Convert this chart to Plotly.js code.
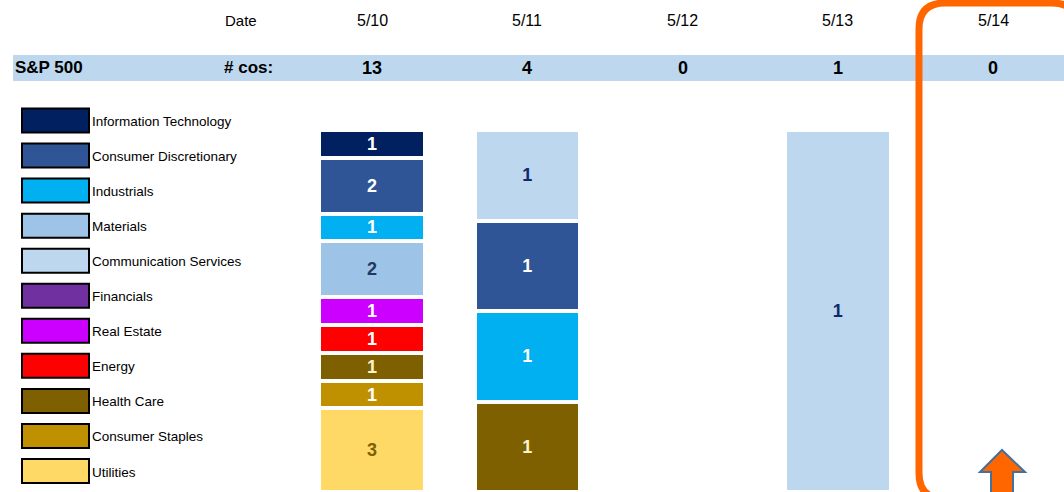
<!DOCTYPE html>
<html>
<head>
<meta charset="utf-8">
<script src="https://cdn.plot.ly/plotly-3.0.1.min.js"></script>
<style>
  html, body { margin: 0; padding: 0; background: #ffffff; }
  #chart { width: 1064px; height: 492px; }
</style>
</head>
<body>
<div id="chart"></div>
<script>
// ---- Data ----
const dates = ['5/10', '5/11', '5/12', '5/13', '5/14'];

const sectors = ['Information Technology', 'Consumer Discretionary', 'Industrials', 'Materials',
  'Communication Services', 'Financials', 'Real Estate', 'Energy', 'Health Care',
  'Consumer Staples', 'Utilities'];

const infoTech      = [1, 0, 0, 0, 0];
const consDisc      = [2, 1, 0, 0, 0];
const industrials   = [1, 1, 0, 0, 0];
const materials     = [2, 0, 0, 0, 0];
const commServices  = [0, 1, 0, 1, 0];
const financials    = [0, 0, 0, 0, 0];
const realEstate    = [1, 0, 0, 0, 0];
const energy        = [1, 0, 0, 0, 0];
const healthCare    = [1, 1, 0, 0, 0];
const consStaples   = [1, 0, 0, 0, 0];
const utilities     = [3, 0, 0, 0, 0];

const sectorValues = {
  'Information Technology': infoTech,
  'Consumer Discretionary': consDisc,
  'Industrials': industrials,
  'Materials': materials,
  'Communication Services': commServices,
  'Financials': financials,
  'Real Estate': realEstate,
  'Energy': energy,
  'Health Care': healthCare,
  'Consumer Staples': consStaples,
  'Utilities': utilities
};

// ---- Styles ----
const sectorColors = {
  'Information Technology': '#002060',
  'Consumer Discretionary': '#2F5597',
  'Industrials': '#00B0F0',
  'Materials': '#9DC3E6',
  'Communication Services': '#BDD7EE',
  'Financials': '#7030A0',
  'Real Estate': '#CC00FF',
  'Energy': '#FF0000',
  'Health Care': '#7F6000',
  'Consumer Staples': '#BF9000',
  'Utilities': '#FFD966'
};
const sectorTextColors = {
  'Information Technology': '#FFFFFF',
  'Consumer Discretionary': '#FFFFFF',
  'Industrials': '#FFFFFF',
  'Materials': '#1F3864',
  'Communication Services': '#0E2A6B',
  'Financials': '#FFFFFF',
  'Real Estate': '#FFFFFF',
  'Energy': '#FFFFFF',
  'Health Care': '#FFF2CC',
  'Consumer Staples': '#FFFFFF',
  'Utilities': '#7F6000'
};
// stacking order, bottom to top
const stackOrder = ['Utilities', 'Consumer Staples', 'Health Care', 'Energy', 'Real Estate',
  'Financials', 'Materials', 'Industrials', 'Consumer Discretionary', 'Information Technology',
  'Communication Services'];

const FONT = '"Liberation Sans", Arial, sans-serif';
const W = 1064, H = 492;
const px = x => x / W;
const py = y => 1 - y / H;

// ---- Traces ----
const traces = stackOrder.map(name => {
  const vals = sectorValues[name];
  return {
    type: 'bar',
    name: name,
    x: dates,
    y: vals.map(v => v > 0 ? v : null),
    text: vals.map(v => v > 0 ? String(v) : ''),
    textposition: 'inside',
    insidetextanchor: 'middle',
    textangle: 0,
    textfont: { family: FONT, size: 18, color: sectorTextColors[name], weight: 'bold' },
    marker: { color: sectorColors[name], line: { color: '#FFFFFF', width: 4 } },
    hoverinfo: 'skip'
  };
});

// ---- Shapes ----
const shapes = [];
// blue header band
shapes.push({ type: 'rect', xref: 'paper', yref: 'paper', x0: px(13), x1: px(1064), y0: py(81), y1: py(55),
  fillcolor: '#BDD7EE', line: { width: 0 }, layer: 'below' });

// legend boxes
const legTop = 120.5, legStep = 35.05, boxH = 24;
sectors.forEach((name, i) => {
  const cy = legTop + i * legStep;
  shapes.push({ type: 'rect', xref: 'paper', yref: 'paper',
    x0: px(22), x1: px(89), y0: py(cy + boxH / 2), y1: py(cy - boxH / 2),
    fillcolor: sectorColors[name], line: { color: '#000000', width: 2 }, layer: 'above' });
});

// orange rounded highlight rectangle
(function () {
  const l = 919, t = 3, r = 1078, b = 499, rad = 26;
  const P = (x, y) => px(x).toFixed(5) + ',' + py(y).toFixed(5);
  const path = 'M' + P(l, t + rad) +
    ' Q' + P(l, t) + ' ' + P(l + rad, t) +
    ' L' + P(r - rad, t) +
    ' Q' + P(r, t) + ' ' + P(r, t + rad) +
    ' L' + P(r, b - rad) +
    ' Q' + P(r, b) + ' ' + P(r - rad, b) +
    ' L' + P(l + rad, b) +
    ' Q' + P(l, b) + ' ' + P(l, b - rad) + ' Z';
  shapes.push({ type: 'path', xref: 'paper', yref: 'paper', path: path,
    line: { color: '#FF6600', width: 7 }, fillcolor: 'rgba(0,0,0,0)', layer: 'above' });

  // arrow
  const pts = [[1002, 450], [1025, 472], [1013, 472], [1013, 500], [991, 500], [991, 472], [980, 472]];
  const ap = 'M' + pts.map(p => P(p[0], p[1])).join(' L') + ' Z';
  shapes.push({ type: 'path', xref: 'paper', yref: 'paper', path: ap,
    fillcolor: '#FF6600', line: { color: '#41719C', width: 2 }, layer: 'above' });
})();

// ---- Annotations ----
const annotations = [];
const totals = dates.map((d, j) => sectors.reduce((s, n) => s + sectorValues[n][j], 0));

annotations.push({ xref: 'paper', yref: 'paper', x: px(223), y: py(20), xanchor: 'left', yanchor: 'middle',
  text: 'Date', showarrow: false, font: { family: FONT, size: 15, color: '#000000' } });
annotations.push({ xref: 'paper', yref: 'paper', x: px(13), y: py(68), xanchor: 'left', yanchor: 'middle',
  text: '<b>S&P 500</b>', showarrow: false, font: { family: FONT, size: 17, color: '#000000' } });
annotations.push({ xref: 'paper', yref: 'paper', x: px(222), y: py(68), xanchor: 'left', yanchor: 'middle',
  text: '<b># cos:</b>', showarrow: false, font: { family: FONT, size: 17, color: '#000000' } });

dates.forEach((d, j) => {
  annotations.push({ xref: 'x', yref: 'paper', x: d, y: py(20), xanchor: 'center', yanchor: 'middle',
    text: d, showarrow: false, font: { family: FONT, size: 16, color: '#000000' } });
  annotations.push({ xref: 'x', yref: 'paper', x: d, y: py(68), xanchor: 'center', yanchor: 'middle',
    text: '<b>' + totals[j] + '</b>', showarrow: false, font: { family: FONT, size: 18, color: '#000000' } });
});

sectors.forEach((name, i) => {
  const cy = legTop + i * legStep;
  annotations.push({ xref: 'paper', yref: 'paper', x: px(90), y: py(cy + 1), xanchor: 'left', yanchor: 'middle',
    text: name, showarrow: false, font: { family: FONT, size: 13.5, color: '#000000' } });
});

const layout = {
  width: W, height: H,
  margin: { l: 0, r: 0, t: 0, b: 0, pad: 0 },
  paper_bgcolor: '#FFFFFF', plot_bgcolor: '#FFFFFF',
  showlegend: false,
  barmode: 'stack', barnorm: 'fraction', bargap: 0.32,
  uniformtext: { mode: 'show', minsize: 18 },
  xaxis: { type: 'category', domain: [294.4 / W, 1], range: [-0.5, 4.457], visible: false, fixedrange: true },
  yaxis: { domain: [0, py(130)], range: [0, 1], visible: false, fixedrange: true },
  shapes: shapes,
  annotations: annotations
};

Plotly.newPlot('chart', traces, layout, { displayModeBar: false, staticPlot: true });
</script>
</body>
</html>
